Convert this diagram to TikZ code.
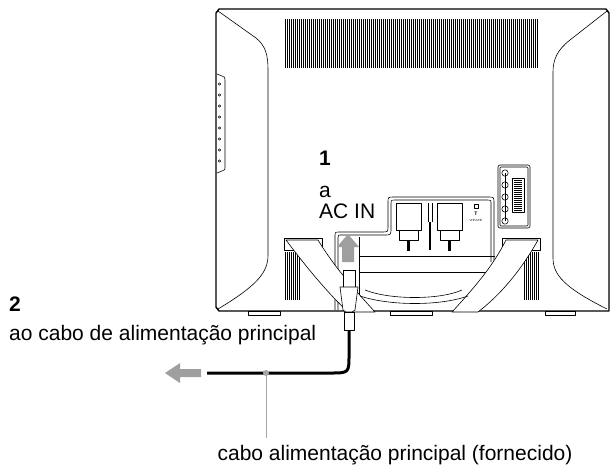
\documentclass[tikz,border=0pt]{standalone}
\usepackage{fontspec}
\setmainfont{Liberation Sans}
\begin{document}
\begin{tikzpicture}[x=1pt,y=-1pt,line join=round,
  ln/.style={draw=black,line width=1pt},
  thin/.style={draw=black,line width=0.6pt},
  lbl/.style={font=\fontsize{21}{24}\selectfont,inner sep=0pt},
  num/.style={font=\bfseries\fontsize{21}{24}\selectfont,inner sep=0pt},
  garrow/.style={fill=gray!75,draw=none}]
\useasboundingbox (0,0) rectangle (615,467);
% monitor outer
\draw[ln,line width=1.4pt] (219,9) -- (606,9) -- (609,13) -- (609,311) -- (219,311) -- (216,307) -- (216,13) -- cycle;
% inner curves
\draw[thin] (218,11) -- (256,38) .. controls (266,46) and (268,56) .. (268,70) -- (268,255) .. controls (268,272) and (258,285) .. (218,309);
\draw[thin] (607,11) -- (570,40) .. controls (557,50) and (553,60) .. (553,72) -- (553,258) .. controls (553,275) and (565,288) .. (607,309);
% side buttons
\draw[thin] (217,74) -- (222,76) .. controls (225,77) .. (225,80) -- (225,166) .. controls (225,170) .. (222,171) -- (217,173);
\foreach \y in {84,95,...,165} \draw[thin] (219.5,\y) circle (1.2);
% top vent
\foreach \x in {285,287,...,537} \draw[line width=0.6pt] (\x,19) -- (\x,68);
% bottom vents
\foreach \x in {285,287,...,300} \draw[line width=0.6pt] (\x,252) -- (\x,300);
\foreach \x in {524,526,...,538} \draw[line width=0.6pt] (\x,252) -- (\x,300);
% feet
\draw[thin] (248,311) rectangle (280,315);
\draw[thin] (390,311) rectangle (432,315);
\draw[thin] (545,311) rectangle (575,315);
% connector panel
\draw[thin,fill=white] (335,310) -- (335,236) .. controls (335,232) .. (340,232) -- (382,232) .. controls (388,232) .. (388,226) -- (388,202) .. controls (388,197) .. (394,197) -- (488,197) .. controls (494,197) .. (494,203) -- (494,262);
\draw[thin] (338,310) -- (338,238) .. controls (338,235) .. (342,235) -- (384,235) .. controls (391,235) .. (391,228) -- (391,204) .. controls (391,200) .. (396,200) -- (486,200) .. controls (491,200) .. (491,204) -- (491,262);
\draw[thin] (359,237) -- (359,310);
\draw[thin] (359,256) -- (495,256);
\draw[thin] (359,272) -- (495,272);
% DVI connectors
\foreach \x in {396,437} {
  \draw[thin,fill=white] (\x,203) rectangle ++(25,27);
  \draw[thin,fill=white] (\x+3,230) rectangle ++(19,10);
  \draw[line width=3pt] (\x+12,240) -- (\x+12,251);
}
\draw[thin] (428,203) -- (428,222);
\draw[thin] (432,203) -- (432,222);
\draw[line width=2pt] (430,222) -- (430,250);
\draw[thin] (474,204) rectangle (478,208);
\node[font=\fontsize{5}{6}\selectfont\bfseries,inner sep=0pt] (t) at (476,214) {T};
\node[font=\fontsize{3}{4}\selectfont,inner sep=0pt] (vhf) at (476,220) {VHF/UHF};
% side panel
\draw[thin,rounded corners=2pt] (498,165) rectangle (530,228);
\draw[thin,rounded corners=1pt] (500,167) rectangle (528,226);
\foreach \y in {173,185,197,209,221} \draw[thin,fill=white] (505,\y) circle (3.2);
\draw[thin] (505,173) -- (505,221);
\draw[thin] (512,178) rectangle (524,212);
\foreach \y in {180,182,...,210} \draw[line width=0.4pt] (514,\y) -- (522,\y);
% stand
\draw[thin,fill=white] (284,238) rectangle (322,250);
\draw[thin,fill=white] (502,238) rectangle (540,250);
\draw[thin,fill=white] (286,240) .. controls (310,272) and (330,295) .. (348,312) -- (375,312) .. controls (355,290) and (335,268) .. (318,240) -- cycle;
\draw[thin,fill=white] (538,240) .. controls (520,272) and (500,295) .. (478,312) -- (452,312) .. controls (472,290) and (492,268) .. (506,240) -- cycle;
\draw[thin] (365,290) .. controls (390,300) and (440,300) .. (462,290);
\draw[thin] (360,296) .. controls (390,306) and (440,306) .. (468,296);
% gray up arrow
\path[garrow] (342,262) -- (342,247) -- (337,247) -- (348,234) -- (359,247) -- (354,247) -- (354,262) -- cycle;
% plug
\draw[thin,fill=white] (343,270) rectangle (355,287);
\draw[thin,fill=white] (340,287) -- (358,287) -- (355,310) -- (352,312) -- (346,312) -- (343,310) -- cycle;
\draw[thin,fill=white] (344,312) rectangle (354,330);
% cable
\coordinate (cs) at (349,330);
\coordinate (ce) at (207,373);
\draw[line width=3pt] (cs) -- (349,355) .. controls (349,373) .. (330,373) -- (ce);
\path[garrow] (201,369) -- (180,369) -- (180,363) -- (165,373) -- (180,383) -- (180,377) -- (201,377) -- cycle;
% leader
\coordinate (dot) at (266,373);
\coordinate (lend) at (266,438);
\fill[gray!70] (dot) circle (3);
\draw[gray!70,line width=1pt] (dot) -- (lend);
% texts
\node[num,anchor=base west] (n1) at (319,165) {1};
\node[lbl,anchor=base west] (a) at (319,197) {a};
\node[lbl,anchor=base west] (acin) at (319,218) {AC IN};
\node[num,anchor=base west] (n2) at (9,311) {2};
\node[lbl,anchor=base west] (ao) at (9,340) {ao cabo de alimentação principal};
\node[lbl,anchor=base] (cabo) at (395,460) {cabo alimentação principal (fornecido)};
\end{tikzpicture}
\end{document}
